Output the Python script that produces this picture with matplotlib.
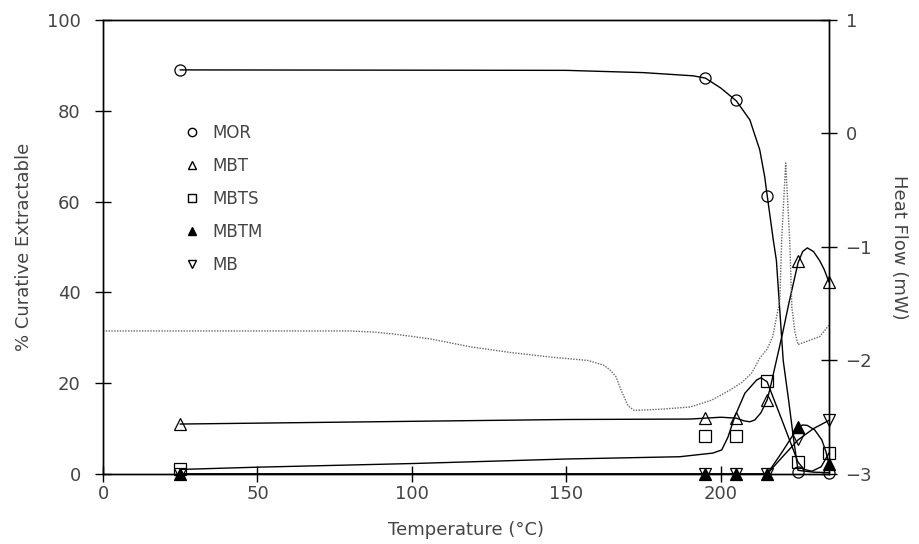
import matplotlib
matplotlib.use('Agg')
import matplotlib.pyplot as plt
from matplotlib.lines import Line2D

# Measured extractables (% of curative) at each cure temperature
temps = [25, 195, 205, 215, 225, 235]
mor = [89.0, 87.2, 82.3, 61.3, 0.5, 0.3]
mbt = [11.0, 12.3, 12.3, 16.3, 47.0, 42.3]
mbts = [1.0, 8.4, 8.4, 20.4, 2.6, 4.6]
mbtm = [0.0, 0.0, 0.0, 0.0, 10.3, 2.2]
mb = [0.0, 0.0, 0.0, 0.0, 7.8, 11.8]

# Fitted curves
mor_fit_t = [25, 150, 175, 191, 195, 200, 205, 209.4, 212.6, 214.2, 215, 217,
             218, 220.2, 222, 223.5, 225, 230, 235]
mor_fit = [89.0, 88.9, 88.4, 87.7, 87.2, 85.0, 82.2, 78.0, 71.4, 65.5, 61.4, 51.5,
           47.0, 25.0, 16.0, 8.0, 0.8, 0.4, 0.3]
mbt_fit_t = [25, 100, 150, 190, 195, 200, 205, 207.5, 209.4, 211, 213, 215, 216,
             218, 220, 222, 224, 225, 226.5, 228, 230, 232, 233.5, 235]
mbt_fit = [11.0, 11.6, 12.0, 12.1, 12.3, 12.5, 12.3, 11.7, 11.5, 11.9, 13.5, 16.3, 19.0,
           25.0, 31.0, 37.5, 43.5, 46.5, 49.0, 49.8, 49.0, 47.0, 45.0, 42.3]
mbts_fit_t = [25, 50, 100, 150, 186.7, 192, 197.4, 200.3, 202.3, 204.5, 207.8, 211.6,
              213, 215, 220, 225, 227, 229.5, 232.5, 235]
mbts_fit = [1.0, 1.5, 2.3, 3.3, 3.8, 4.2, 4.6, 5.3, 8.1, 12.6, 17.8, 20.7,
            21.2, 20.3, 11.5, 2.6, 1.0, 0.6, 1.6, 4.6]
mbtm_fit_t = [25, 215, 220, 225, 226.5, 228, 230.4, 232.7, 234, 235]
mbtm_fit = [0.0, 0.0, 5.0, 10.3, 10.8, 10.7, 9.7, 7.5, 5.0, 2.2]
mb_fit_t = [25, 215, 220, 225, 230, 235]
mb_fit = [0.0, 0.0, 3.8, 7.5, 10.0, 11.8]

# DSC trace (heat flow, mW)
dsc_t = [0, 20, 40, 60, 80, 88, 95, 106, 119, 132, 145, 157, 162, 164, 166, 168,
         170, 172, 180, 190, 197, 203, 207, 210, 212.6, 215, 216.8, 219.1, 219.7,
         221, 222.3, 223, 224, 225, 229, 232, 235]
dsc = [-1.74, -1.74, -1.74, -1.74, -1.74, -1.75, -1.77, -1.81, -1.88, -1.93, -1.97,
       -2.00, -2.04, -2.08, -2.14, -2.28, -2.40, -2.44, -2.43, -2.41, -2.35, -2.26,
       -2.19, -2.11, -1.98, -1.90, -1.79, -1.47, -0.94, -0.26, -0.94, -1.53, -1.75,
       -1.86, -1.82, -1.79, -1.69]

matplotlib.rc('font', family='DejaVu Sans', size=13)
text_color = '#444444'

fig = plt.figure(figsize=(9.2, 5.44), dpi=100)
ax = fig.add_axes([0.112, 0.1287, 0.789, 0.8346])
ax2 = ax.twinx()

line_kw = dict(color='black', lw=1.0)
for t, y in [(mor_fit_t, mor_fit), (mbt_fit_t, mbt_fit), (mbts_fit_t, mbts_fit),
             (mbtm_fit_t, mbtm_fit), (mb_fit_t, mb_fit)]:
    ax.plot(t, y, **line_kw)

mk = dict(ls='none', mec='black', mew=0.9, ms=8, clip_on=False, zorder=5)
ax.plot(temps, mor, marker='o', mfc='none', **mk)
ax.plot(temps, mbt, marker='^', mfc='none', **mk)
ax.plot(temps, mbts, marker='s', mfc='none', **mk)
ax.plot(temps, mbtm, marker='^', mfc='black', **mk)
ax.plot(temps, mb, marker='v', mfc='none', **mk)

ax2.plot(dsc_t, dsc, color='0.4', lw=1.0, ls=(0, (1, 1)))

ax.set_xlim(0, 235)
ax.set_ylim(0, 100)
ax2.set_ylim(-3, 1)
ax.set_xticks([0, 50, 100, 150, 200])
ax.set_yticks([0, 20, 40, 60, 80, 100])
ax2.set_yticks([-3, -2, -1, 0, 1])

for a in (ax, ax2):
    a.tick_params(direction='inout', length=12, width=1, colors='black',
                  labelcolor=text_color, labelsize=13)
    for s in a.spines.values():
        s.set_linewidth(1.0)
ax.tick_params(axis='x', pad=2)
ax.tick_params(axis='y', pad=10)
ax2.tick_params(axis='y', pad=6)

ax.set_xlabel('Temperature (°C)', color=text_color, labelpad=13)
ax.set_ylabel('% Curative Extractable', color=text_color, labelpad=10)
ax2.set_ylabel('Heat Flow (mW)', color=text_color, rotation=270, labelpad=26)

handles = [
    Line2D([], [], ls='none', marker='o', mfc='none', mec='black', ms=6),
    Line2D([], [], ls='none', marker='^', mfc='none', mec='black', ms=6),
    Line2D([], [], ls='none', marker='s', mfc='none', mec='black', ms=6),
    Line2D([], [], ls='none', marker='^', mfc='black', mec='black', ms=6),
    Line2D([], [], ls='none', marker='v', mfc='none', mec='black', ms=6),
]
labels = ['MOR', 'MBT', 'MBTS', 'MBTM', 'MB']
leg = ax.legend(handles, labels, loc='upper left', bbox_to_anchor=(0.1, 0.79),
                frameon=False, handlelength=1.0, handletextpad=0.7,
                labelspacing=0.9, fontsize=12, borderpad=0)
for txt in leg.get_texts():
    txt.set_color(text_color)

fig.savefig('out.png', dpi=100)
